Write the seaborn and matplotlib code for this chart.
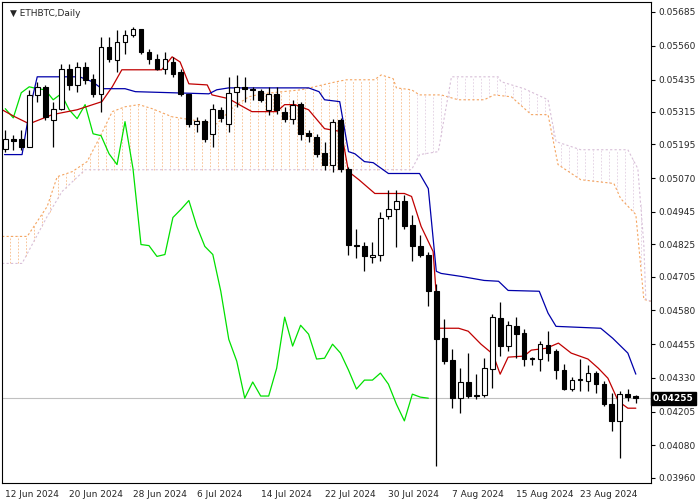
import matplotlib
matplotlib.use("Agg")
import matplotlib.pyplot as plt
import seaborn as sns
import numpy as np
import pandas as pd

sns.set_style("white")
plt.rcParams['font.family'] = ['DejaVu Sans']

# --- candles (index 0 = 12 Jun 2024) ---
opens = [.05179, .05216, .05216, .05186, .05378, .05408, .05286, .05327, .05475, .05416,
         .05482, .05438, .05382, .05556, .05508, .05574, .05600, .05622, .05537, .05511,
         .05475, .05500, .05463, .05382, .05271, .05282, .05234, .05323, .05271, .05390,
         .05408, .05401, .05393, .05323, .05382, .05316, .05290, .05345, .05238, .05223,
         .05164, .05120, .05286, .05105, .04824, .04820, .04776, .04784, .04928, .04954,
         .04987, .04895, .04817, .04787, .04651, .04477, .04396, .04255, .04315, .04266,
         .04266, .04363, .04551, .04448, .04521, .04496, .04400, .04400, .04451, .04429,
         .04359, .04289, .04322, .04318, .04348, .04307, .04233, .04171, .04270, .04263]
highs = [.05249, .05231, .05249, .05397, .05427, .05416, .05353, .05493, .05493, .05500,
         .05500, .05456, .05593, .05593, .05619, .05619, .05630, .05622, .05548, .05530,
         .05537, .05519, .05475, .05382, .05297, .05290, .05345, .05334, .05445, .05452,
         .05445, .05408, .05401, .05408, .05408, .05334, .05360, .05353, .05249, .05234,
         .05205, .05290, .05293, .05112, .04880, .04835, .04835, .04946, .05027, .05027,
         .05009, .04935, .04861, .04798, .04677, .04547, .04437, .04366, .04422, .04344,
         .04403, .04566, .04610, .04540, .04555, .04510, .04407, .04466, .04503, .04437,
         .04381, .04333, .04400, .04377, .04355, .04318, .04274, .04281, .04289, .04266]
lows = [.05168, .05175, .05175, .05186, .05353, .05286, .05186, .05323, .05397, .05390,
        .05419, .05371, .05316, .05500, .05463, .05530, .05593, .05530, .05493, .05470,
        .05456, .05445, .05375, .05260, .05242, .05205, .05186, .05279, .05242, .05334,
        .05353, .05360, .05353, .05305, .05308, .05279, .05271, .05212, .05205, .05149,
        .05101, .05094, .05094, .04787, .04773, .04725, .04754, .04762, .04920, .04813,
        .04880, .04762, .04776, .04595, .04004, .04381, .04218, .04200, .04255, .04252,
        .04259, .04292, .04411, .04429, .04403, .04374, .04377, .04355, .04392, .04326,
        .04285, .04281, .04281, .04281, .04274, .04226, .04134, .04034, .04244, .04237]
closes = [.05216, .05208, .05186, .05378, .05408, .05297, .05327, .05475, .05416, .05482,
          .05434, .05382, .05556, .05511, .05574, .05600, .05622, .05537, .05511, .05475,
          .05511, .05456, .05382, .05271, .05282, .05216, .05327, .05293, .05386, .05408,
          .05401, .05397, .05360, .05382, .05323, .05290, .05342, .05234, .05227, .05160,
          .05120, .05279, .05105, .04824, .04820, .04780, .04787, .04924, .04954, .04987,
          .04891, .04817, .04787, .04651, .04473, .04392, .04255, .04315, .04263, .04263,
          .04366, .04555, .04448, .04525, .04492, .04400, .04403, .04455, .04422, .04359,
          .04289, .04322, .04322, .04348, .04307, .04233, .04171, .04270, .04259, .04255]

# --- Ichimoku lines (index, price) ---
tenkan_x = [-0.4, 1.2, 3, 5.9, 9, 12.1, 13.4, 14.6, 19.6, 20.9, 21.9, 23, 25.3, 25.9, 28, 29.3,
            30.9, 34, 35, 36.3, 38, 40, 42.1, 43, 44.3, 46.3, 50, 50.9, 52.1, 53.6, 54.3, 56.8,
            58, 59.6, 61.1, 62, 63, 65, 65.9, 67.8, 69.3, 70.9, 73, 74.3, 75.5, 76.8, 78, 79]
tenkan_y = [.05323, .05297, .05271, .05305, .05323, .05353, .05408, .05471, .05471, .05519,
            .05500, .05419, .05415, .05378, .05364, .05342, .05316, .05316, .05342, .05342,
            .05323, .05253, .05242, .05094, .05064, .05013, .05013, .05002, .04891, .04798,
            .04514, .04514, .04503, .04455, .04418, .04344, .04407, .04411, .04433, .04440,
            .04459, .04422, .04400, .04366, .04329, .04244, .04218, .04218]
kijun_x = [-0.1, 2.1, 3, 4, 9.3, 10.9, 12.1, 15, 16.3, 25.5, 26.5, 28, 38, 39.3, 40, 41.9, 43,
           43.8, 45, 46.1, 48, 51.9, 53, 54, 54.6, 57.1, 60, 61.8, 63, 66.9, 68, 69, 74.6, 76.1, 78, 79]
kijun_y = [.05157, .05157, .05316, .05445, .05445, .05427, .05401, .05401, .05390, .05382,
           .05397, .05404, .05404, .05390, .05360, .05353, .05168, .05160, .05131, .05127,
           .05087, .05087, .05031, .04725, .04717, .04706, .04691, .04688, .04654, .04651,
           .04570, .04521, .04514, .04477, .04422, .04344]
span_a_x = [-0.4, 2.75, 5.25, 6.5, 8.4, 10.25, 11.75, 13.4, 15, 16.75, 18.4, 20.9, 26.5, 28.6,
            30.5, 32.1, 37.1, 41.5, 42.75, 46.25, 47.1, 48.6, 49, 50.9, 51.9, 54.6, 56.75, 60,
            61.25, 63.4, 65.9, 68, 69.25, 72.1, 76.25, 77.1, 79, 80, 80.9]
span_a_y = [.04854, .04854, .04965, .05075, .05094, .05131, .05216, .05316, .05334, .05342,
            .05327, .05297, .05271, .05334, .05371, .05382, .05397, .05427, .05434, .05434,
            .05452, .05438, .05404, .05397, .05378, .05378, .05360, .05360, .05378, .05371,
            .05305, .05305, .05120, .05064, .05050, .04994, .04935, .04621, .04614]
span_b_x = [-0.4, 2.1, 5.25, 7.1, 10, 50.9, 51.9, 54.25, 55.9, 61.75, 62.1, 65, 68, 68.4, 69,
            72.1, 78, 79.25, 80, 80.25, 80.9]
span_b_y = [.04754, .04754, .04928, .05020, .05101, .05101, .05157, .05168, .05445, .05445,
            .05427, .05401, .05360, .05297, .05205, .05175, .05175, .05105, .04824, .04621, .04614]

date_ticks = [0, 8, 16, 24, 32, 40, 48, 56, 64, 72]
date_labels = ["12 Jun 2024", "20 Jun 2024", "28 Jun 2024", "6 Jul 2024", "14 Jul 2024",
               "22 Jul 2024", "30 Jul 2024", "7 Aug 2024", "15 Aug 2024", "23 Aug 2024"]
price_ticks = [0.05685, 0.05560, 0.05435, 0.05315, 0.05195, 0.05070, 0.04945, 0.04825,
               0.04705, 0.04580, 0.04455, 0.04330, 0.04205, 0.04080, 0.03960]
last_price = 0.04255

df = pd.DataFrame({'o': opens, 'h': highs, 'l': lows, 'c': closes})
df['i'] = np.arange(len(df))

fig = plt.figure(figsize=(7, 5), dpi=100)
ax = fig.add_axes([0.003, 0.034, 0.927, 0.962])

# cloud hatching
grid = np.arange(-0.4, 81, 1.0)
a_i = np.interp(grid, span_a_x, span_a_y)
b_i = np.interp(grid, span_b_x, span_b_y)
for g, a, b in zip(grid, a_i, b_i):
    col = '#F4A460' if g < 51 else '#D8BFD8'
    ax.vlines(g, min(a, b), max(a, b), colors=col, linestyles=(0, (2, 2)),
              linewidth=0.6, alpha=0.75)
ax.plot(span_a_x, span_a_y, color='#F4A460', ls=(0, (2, 2)), lw=0.8)
ax.plot(span_b_x, span_b_y, color='#D8BFD8', ls=(0, (2, 2)), lw=0.8)

ax.axhline(last_price, color='#C0C0C0', lw=0.8)

sns.lineplot(x=df['i'][26:] - 26, y=df['c'][26:], color='#00E000', lw=0.9, ax=ax)
sns.lineplot(x=tenkan_x, y=tenkan_y, color='#C00000', lw=0.9, ax=ax)
sns.lineplot(x=kijun_x, y=kijun_y, color='#0000AA', lw=0.9, ax=ax)

# candles
ax.vlines(df['i'], df['l'], df['h'], colors='black', lw=0.9, zorder=3)
up = df[df['c'] >= df['o']]
dn = df[df['c'] < df['o']]
ax.bar(up['i'], (up['c'] - up['o']).clip(lower=0.000025), bottom=up['o'], width=0.6,
       color='white', edgecolor='black', lw=0.8, zorder=4)
ax.bar(dn['i'], dn['o'] - dn['c'], bottom=dn['c'], width=0.6,
       color='black', edgecolor='black', lw=0.8, zorder=4)

ax.set_xlim(-0.4, 80.9)
ax.set_ylim(0.03941, 0.05722)
ax.set_xlabel('')
ax.set_ylabel('')
ax.yaxis.tick_right()
ax.set_yticks(price_ticks)
ax.set_yticklabels([f"{p:.5f}" for p in price_ticks])
ax.set_xticks(date_ticks)
ax.set_xticklabels(date_labels, ha='left')
ax.tick_params(axis='both', labelsize=6.5, length=3, direction='out', color='black', pad=2)
for s in ax.spines.values():
    s.set_color('black')
    s.set_linewidth(0.8)

ax.text(1.003, last_price, f"{last_price:.5f}", transform=ax.get_yaxis_transform(),
        fontsize=6.5, color='white', va='center', ha='left', fontweight='bold',
        bbox=dict(boxstyle='square,pad=0.2', facecolor='black', edgecolor='black'))
ax.text(0.012, 0.985, "\u25BC ETHBTC,Daily", transform=ax.transAxes, fontsize=6.5,
        va='top', ha='left')

fig.savefig("out.png", dpi=100)
